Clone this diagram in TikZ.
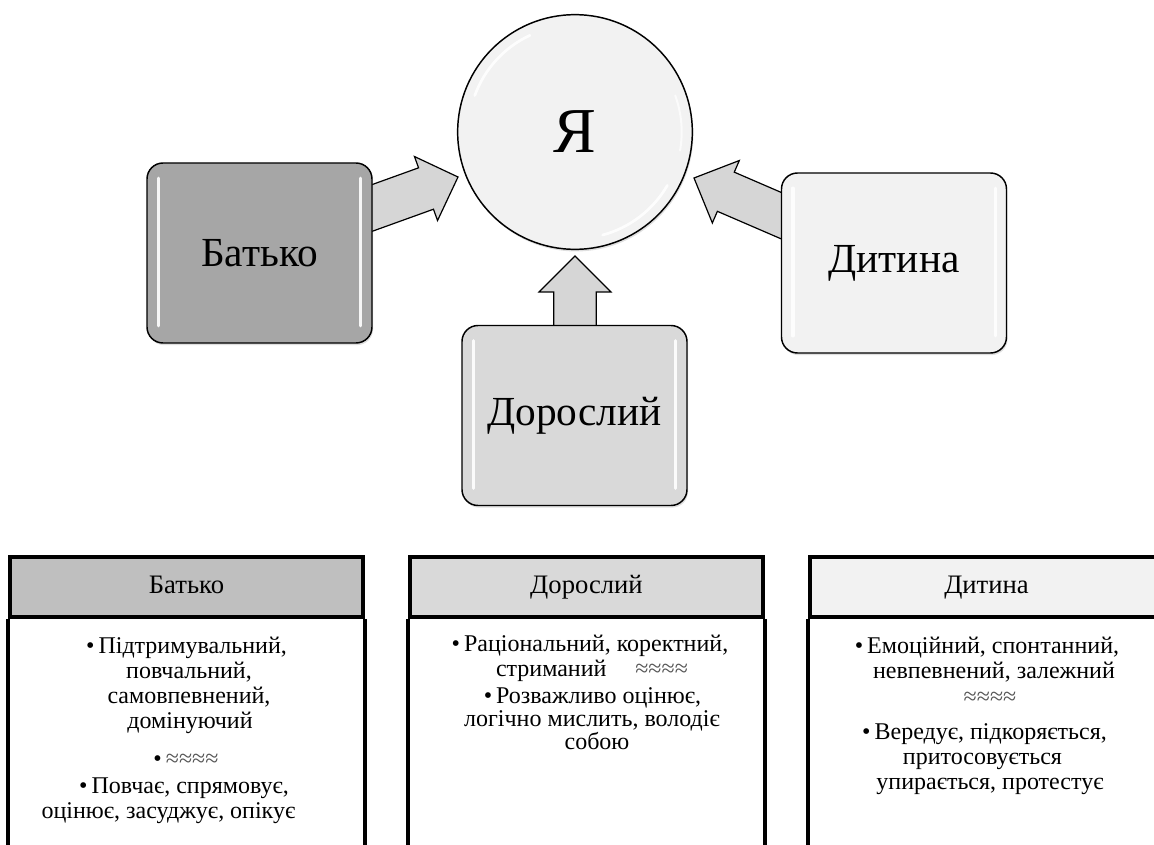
\documentclass[tikz,border=0pt]{standalone}
\usepackage{fontspec}
\IfFontExistsTF{LiberationSerif-Regular.ttf}
  {\setmainfont{LiberationSerif}[Extension=.ttf, UprightFont=*-Regular, BoldFont=*-Bold, ItalicFont=*-Italic, BoldItalicFont=*-BoldItalic]}
  {\setmainfont{Liberation Serif}}
\usetikzlibrary{calc,shadows}
\definecolor{cDark}{HTML}{A6A6A6}
\definecolor{cMid}{HTML}{D9D9D9}
\definecolor{cLight}{HTML}{F2F2F2}
\definecolor{cHead}{HTML}{BFBFBF}
\definecolor{cArrow}{HTML}{D6D6D6}
\definecolor{cWave}{HTML}{555555}
\newcommand{\blockarr}[5]{%
  \coordinate (ba-h) at ($(#2)!#5!(#1)$);
  \draw[blockarrow]
    ($(#1)!#3!90:(#2)$) -- ($(ba-h)!#3!90:(#2)$) -- ($(ba-h)!#4!90:(#2)$) --
    (#2) -- ($(ba-h)!#4!-90:(#2)$) -- ($(ba-h)!#3!-90:(#2)$) -- ($(#1)!#3!-90:(#2)$) -- cycle;
}
\newcommand{\wv}{{\color{cWave}≈≈≈≈}}
\tikzset{
  blockarrow/.style={fill=cArrow, draw=black, line width=0.9pt, line join=miter},
  ubox/.style={rectangle, rounded corners=12pt, draw=black, line width=1.1pt,
    minimum width=168.75pt, minimum height=135pt, inner sep=0pt,
    font=\fontsize{31}{36}\selectfont,
    drop shadow={opacity=0.25, shadow xshift=0.8pt, shadow yshift=-1.6pt}},
  hl/.style={white, line width=2.6pt, line cap=round, opacity=0.9},
  hdr/.style={rectangle, draw=black, line width=3pt, minimum width=264.75pt,
    minimum height=45pt, inner sep=0pt, text height=14pt, text depth=4pt,
    font=\fontsize{20}{24}\selectfont},
  tline/.style={draw=black, line width=2.6pt},
  ln/.style={anchor=base, inner sep=0pt, font=\fontsize{18}{20}\selectfont},
}
\begin{document}
\begin{tikzpicture}[x=0.75pt, y=-0.75pt]
\useasboundingbox (0,0) rectangle (1154,845);
\clip (0,0) rectangle (1154,845);

\node[circle, draw=black, line width=1.1pt, fill=cLight, minimum size=176pt, inner sep=0pt,
  font=\fontsize{48}{52}\selectfont,
  drop shadow={opacity=0.25, shadow xshift=0.8pt, shadow yshift=-1.6pt}] (ya) at (575,132) {Я};

\coordinate (t1) at ($(ya.center)+(-117,45)$);
\coordinate (s1) at ($(t1)+(-129,46.5)$);
\coordinate (t2) at ($(ya.center)+(119,46)$);
\coordinate (s2) at ($(t2)+(132,57)$);
\coordinate (t3) at ($(ya.center)+(0,124)$);
\coordinate (s3) at ($(t3)+(0,90)$);

\blockarr{s1}{t1}{16.5pt}{25.5pt}{25.5pt}
\blockarr{s2}{t2}{16pt}{25.5pt}{26pt}
\blockarr{s3}{t3}{16pt}{27pt}{27pt}

\node[ubox, fill=cDark] (bat) at (259.5,253) {Батько};
\node[ubox, fill=cMid] (dor) at (574.5,415.5) {Дорослий};
\node[ubox, fill=cLight] (dyt) at (894,263) {Дитина};

\foreach \n in {bat,dor,dyt}{
  \draw[hl] ($(\n.north west)+(12,16)$) -- ($(\n.south west)+(12,-18)$);
  \draw[hl] ($(\n.north east)+(-12,16)$) -- ($(\n.south east)+(-12,-18)$);
}
\draw[white, line width=2pt, opacity=0.85, line cap=round]
  ($(ya.center)+(115:80pt)$) arc[start angle=115, end angle=160, radius=80pt];
\draw[white, line width=2pt, opacity=0.85, line cap=round]
  ($(ya.center)+(-75:80pt)$) arc[start angle=-75, end angle=-30, radius=80pt];
\draw[white, line width=1.5pt, opacity=0.7, line cap=round]
  ($(ya.center)+(-10:80pt)$) arc[start angle=-10, end angle=20, radius=80pt];

\node[hdr, fill=cHead] (hb) at (186.5,587) {Батько};
\node[hdr, fill=cMid] (hd) at (586.5,587) {Дорослий};
\node[hdr, fill=cLight] (hk) at (986.5,587) {Дитина};
\foreach \n in {hb,hd,hk}{
  \draw[tline] (\n.south west) -- ($(\n.south west)+(0,300)$);
  \draw[tline] (\n.south east) -- ($(\n.south east)+(0,300)$);
}

\node[ln] (b11) at (186.5,653) {•\,Підтримувальний,};
\node[ln] (b12) at (189,678) {повчальний,};
\node[ln] (b13) at (189,703) {самовпевнений,};
\node[ln] (b14) at (190,728) {домінуючий};
\node[ln] (b2) at (186,766) {•\,\wv};
\node[ln] (b31) at (184,793) {•\,Повчає, спрямовує,};
\node[ln] (b32) at (168.5,818) {оцінює, засуджує, опікує};

\node[ln] (d11) at (590,651) {•\,Раціональний, коректний,};
\node[ln] (d12) at (592,676) {стриманий\hspace{1.2em}\wv};
\node[ln] (d21) at (592.5,703) {•\,Розважливо оцінює,};
\node[ln] (d22) at (592,726) {логічно мислить, володіє};
\node[ln] (d23) at (597,749) {собою};

\node[ln] (k11) at (987,653) {•\,Емоційний, спонтанний,};
\node[ln] (k12) at (994,678) {невпевнений, залежний};
\node[ln] (k13) at (990,704) {\wv};
\node[ln] (k21) at (984.5,739) {•\,Вередує, підкоряється,};
\node[ln] (k22) at (982.5,764) {притосовується};
\node[ln] (k23) at (990,789) {упирається, протестує};
\end{tikzpicture}
\end{document}
